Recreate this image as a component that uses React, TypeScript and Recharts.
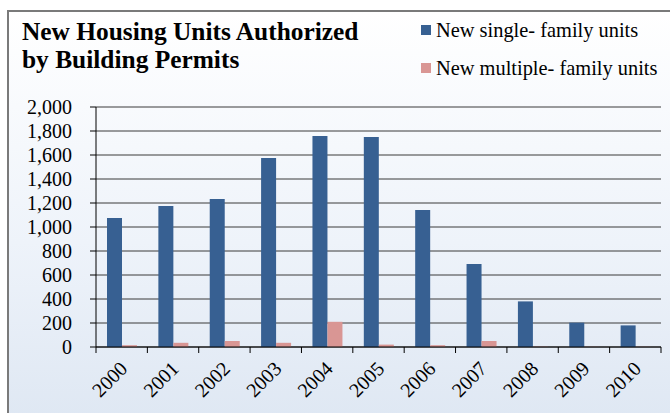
import React from 'react';
import { BarChart, Bar, XAxis, YAxis, CartesianGrid } from 'recharts';

const years = ['2000', '2001', '2002', '2003', '2004', '2005', '2006', '2007', '2008', '2009', '2010'];
const singleFamily = [1075, 1175, 1233, 1575, 1758, 1750, 1142, 692, 380, 203, 180];
const multiFamily = [15, 35, 50, 35, 210, 20, 15, 50, 3, 2, 2];
const yTicks = [0, 200, 400, 600, 800, 1000, 1200, 1400, 1600, 1800, 2000];
const seriesNames = ['New single- family units', 'New multiple- family units'];
const titleLines = ['New Housing Units Authorized', 'by Building Permits'];

const data = years.map((y, i) => ({ year: y, single: singleFamily[i], multi: multiFamily[i] }));

const W = 670;
const H = 413;
const PLOT_LEFT = 96;
const PLOT_RIGHT = 661;
const PLOT_TOP = 107;
const PLOT_BOTTOM = 347;
const BAND = (PLOT_RIGHT - PLOT_LEFT) / years.length;
const FONT = 'Liberation Serif';
const BLUE = '#376092';
const PINK = '#d99694';
const COLORS = [BLUE, PINK];

const fmt = (v: number) => v.toLocaleString('en-US');

const XTick = (props: any) => {
  const { x, y, payload, index } = props;
  const left = x - BAND / 2;
  const isLast = index === years.length - 1;
  const ax = x + 2;
  const ay = y + 10;
  return (
    <g>
      <line x1={left} y1={PLOT_BOTTOM} x2={left} y2={PLOT_BOTTOM + 6} stroke="#000" strokeWidth={1} />
      {isLast && (
        <line x1={x + BAND / 2} y1={PLOT_BOTTOM} x2={x + BAND / 2} y2={PLOT_BOTTOM + 6} stroke="#000" strokeWidth={1} />
      )}
      <text
        x={ax}
        y={ay}
        transform={`rotate(-45, ${ax}, ${ay})`}
        textAnchor="end"
        dominantBaseline="central"
        style={{ fontFamily: FONT, fontSize: 20 }}
        fill="#000"
      >
        {payload.value}
      </text>
    </g>
  );
};

export default function App() {
  return (
    <div style={{ position: 'absolute', left: 0, top: 0, width: W, height: H, overflow: 'hidden', background: '#fff' }}>
      <div
        style={{
          position: 'absolute',
          left: 7,
          top: 10,
          width: 720,
          height: 460,
          border: '2px solid #7a7a7a',
          background: 'linear-gradient(to bottom, #ffffff 0%, #eef3fa 50%, #dae4f1 100%)',
        }}
      />
      <div
        style={{
          position: 'absolute',
          left: 22,
          top: 17,
          fontFamily: FONT,
          fontWeight: 'bold',
          fontSize: 25.4,
          lineHeight: '28px',
          color: '#000',
        }}
      >
        {titleLines.map((t) => (
          <div key={t}>{t}</div>
        ))}
      </div>
      <div style={{ position: 'absolute', left: 421, top: 19, fontFamily: FONT, fontSize: 20.4, color: '#000' }}>
        {seriesNames.map((n, i) => (
          <div
            key={n}
            style={{ display: 'flex', alignItems: 'center', height: 22, marginBottom: i === 0 ? 16 : 0, whiteSpace: 'nowrap' }}
          >
            <span style={{ display: 'inline-block', width: 10, height: 10, background: COLORS[i], marginRight: 5 }} />
            <span>{n}</span>
          </div>
        ))}
      </div>
      <div style={{ position: 'absolute', left: 0, top: 0 }}>
        <BarChart
          width={W}
          height={H}
          data={data}
          margin={{ top: PLOT_TOP, right: W - PLOT_RIGHT, left: 0, bottom: 0 }}
          barCategoryGap={11}
          barGap={0}
        >
          <CartesianGrid vertical={false} stroke="#3a3a3a" strokeWidth={1} />
          <XAxis
            dataKey="year"
            height={H - PLOT_BOTTOM}
            interval={0}
            tickLine={false}
            axisLine={{ stroke: '#000' }}
            tick={<XTick />}
          />
          <YAxis
            width={PLOT_LEFT}
            domain={[0, 2000]}
            ticks={yTicks}
            interval={0}
            tickFormatter={fmt}
            tickSize={6}
            tickMargin={18}
            tickLine={{ stroke: '#000' }}
            axisLine={{ stroke: '#000' }}
            tick={{ style: { fontFamily: FONT, fontSize: 20 }, fill: '#000' }}
          />
          <YAxis
            yAxisId="r"
            orientation="right"
            width={0}
            domain={[0, 2000]}
            tick={false}
            tickLine={false}
            axisLine={{ stroke: '#000' }}
          />
          <Bar dataKey="single" name={seriesNames[0]} fill={BLUE} isAnimationActive={false} />
          <Bar dataKey="multi" name={seriesNames[1]} fill={PINK} isAnimationActive={false} />
        </BarChart>
      </div>
    </div>
  );
}
